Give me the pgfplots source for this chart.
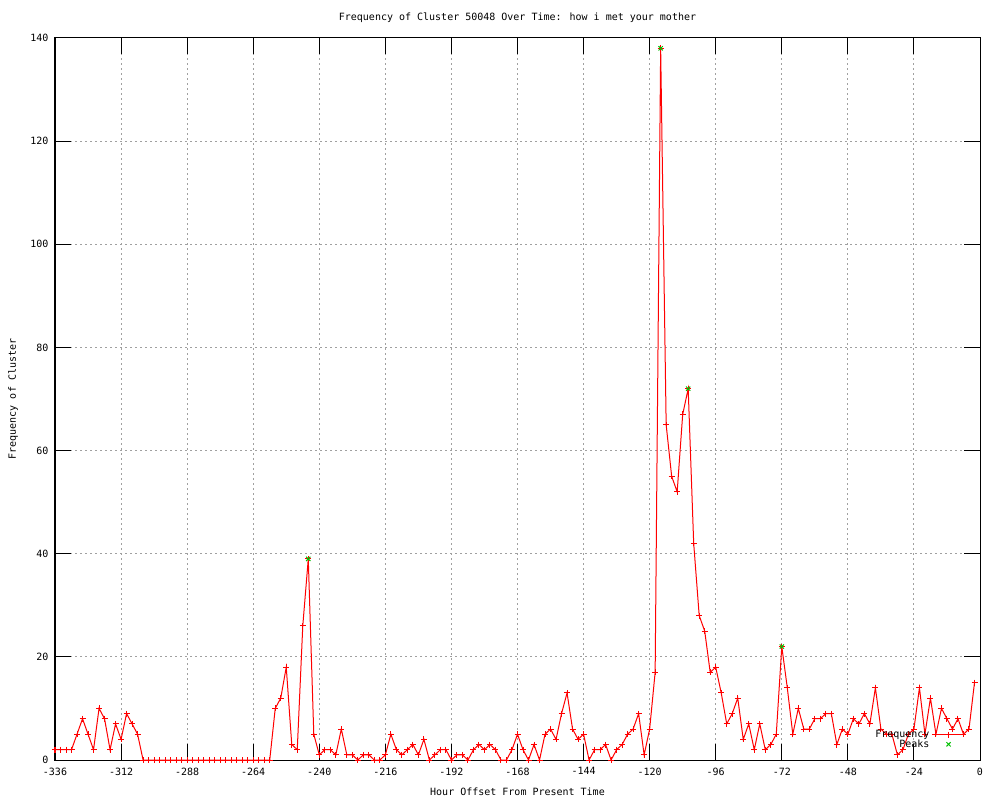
\documentclass[border=0pt]{standalone}
\usepackage{fontspec}
\setmainfont{DejaVu Sans Mono}
\usepackage{pgfplots}
\pgfplotsset{compat=1.18}
\definecolor{gpred}{RGB}{255,0,0}
\definecolor{gpgreen}{RGB}{0,192,0}
\definecolor{gpgrid}{RGB}{160,160,160}
\begin{document}
\fontsize{7.5pt}{9pt}\selectfont
\begin{tikzpicture}
\useasboundingbox (0,0) rectangle (750pt,600pt);
\begin{axis}[
  at={(41.25pt,30pt)}, anchor=south west,
  scale only axis, width=693.75pt, height=541.5pt,
  xmin=-336, xmax=0, ymin=0, ymax=140,
  xtick={-336,-312,...,0}, ytick={0,20,...,140},
  tick pos=both, tick align=inside,
  major tick length=12pt,
  every tick/.style={black, line width=0.75pt},
  axis line style={black, line width=0.75pt},
  grid=major,
  major grid style={gpgrid, line width=0.75pt, dash pattern=on 1.5pt off 2.25pt},
  /pgf/number format/assume math mode=true,
  /pgf/number format/1000 sep=,
  tick label style={font=\fontsize{7.5pt}{9pt}\selectfont},
  xticklabel style={yshift=-3pt},
  yticklabel style={xshift=-2.25pt},
  title={Frequency of Cluster 50048 Over Time: how i met your mother},
  title style={at={(axis description cs:0.5,1.0166)}, anchor=center, font=\fontsize{7.5pt}{9pt}\selectfont},
  xlabel={Hour Offset From Present Time},
  xlabel style={at={(axis description cs:0.5,-0.0443)}, anchor=center, font=\fontsize{7.5pt}{9pt}\selectfont},
  ylabel={Frequency of Cluster},
  ylabel style={at={(axis description cs:-0.0454,0.5)}, anchor=center, rotate=0, font=\fontsize{7.5pt}{9pt}\selectfont},
  legend style={at={(0.989,0.048)}, anchor=north east, draw=none, fill=none,
    font=\fontsize{7.5pt}{9pt}\selectfont, row sep=-2.5pt,
    nodes={inner sep=1.5pt}},
  legend cell align=right,
  legend plot pos=right,
  legend image code/.code={
    \draw[mark repeat=2,mark phase=2,#1] plot coordinates {(0pt,0pt) (12.4pt,0pt) (24.8pt,0pt)};
  },
]
\addplot[gpred, line width=0.75pt, mark=+, mark size=2.25pt, mark options={line width=0.75pt}] coordinates {
(-336,2) (-334,2) (-332,2) (-330,2) (-328,5) (-326,8) (-324,5) (-322,2) (-320,10) (-318,8)
(-316,2) (-314,7) (-312,4) (-310,9) (-308,7) (-306,5)
(-304,0) (-302,0) (-300,0) (-298,0) (-296,0) (-294,0) (-292,0) (-290,0) (-288,0) (-286,0)
(-284,0) (-282,0) (-280,0) (-278,0) (-276,0) (-274,0) (-272,0) (-270,0) (-268,0) (-266,0)
(-264,0) (-262,0) (-260,0) (-258,0)
(-256,10) (-254,12) (-252,18) (-250,3) (-248,2) (-246,26) (-244,39) (-242,5) (-240,1) (-238,2)
(-236,2) (-234,1) (-232,6) (-230,1) (-228,1) (-226,0) (-224,1) (-222,1) (-220,0) (-218,0)
(-216,1) (-214,5) (-212,2) (-210,1) (-208,2) (-206,3) (-204,1) (-202,4) (-200,0) (-198,1)
(-196,2) (-194,2) (-192,0) (-190,1) (-188,1) (-186,0) (-184,2) (-182,3) (-180,2) (-178,3)
(-176,2) (-174,0) (-172,0) (-170,2) (-168,5) (-166,2) (-164,0) (-162,3) (-160,0) (-158,5)
(-156,6) (-154,4) (-152,9) (-150,13) (-148,6) (-146,4) (-144,5) (-142,0) (-140,2) (-138,2)
(-136,3) (-134,0) (-132,2) (-130,3) (-128,5) (-126,6) (-124,9) (-122,1) (-120,6) (-118,17)
(-116,138) (-114,65) (-112,55) (-110,52) (-108,67) (-106,72) (-104,42) (-102,28) (-100,25) (-98,17)
(-96,18) (-94,13) (-92,7) (-90,9) (-88,12) (-86,4) (-84,7) (-82,2) (-80,7) (-78,2)
(-76,3) (-74,5) (-72,22) (-70,14) (-68,5) (-66,10) (-64,6) (-62,6) (-60,8) (-58,8)
(-56,9) (-54,9) (-52,3) (-50,6) (-48,5) (-46,8) (-44,7) (-42,9) (-40,7) (-38,14)
(-36,6) (-34,5) (-32,5) (-30,1) (-28,2) (-26,5) (-24,6) (-22,14) (-20,5) (-18,12)
(-16,5) (-14,10) (-12,8) (-10,6) (-8,8) (-6,5) (-4,6) (-2,15)
};
\addlegendentry{Frequency}
\addplot[gpgreen, only marks, mark=x, mark size=2.25pt, mark options={line width=0.75pt}] coordinates {
(-244,39) (-116,138) (-106,72) (-72,22)
};
\addlegendentry{Peaks}
\end{axis}
\end{tikzpicture}
\end{document}
